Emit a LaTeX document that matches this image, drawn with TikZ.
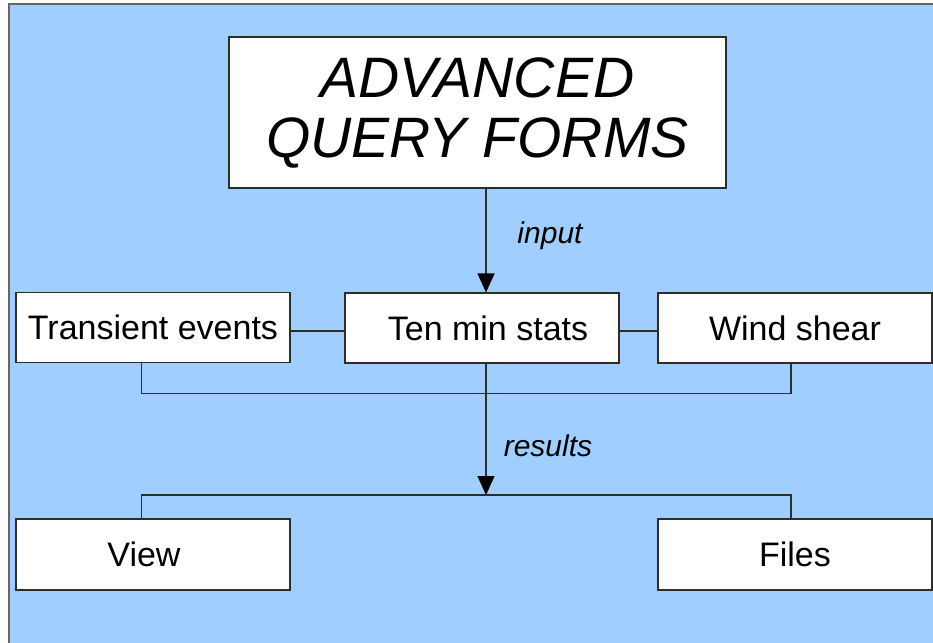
\documentclass[tikz,border=0pt]{standalone}
\usepackage{fontspec}
\setmainfont{Liberation Sans}
\usetikzlibrary{arrows.meta}
\definecolor{bgblue}{RGB}{160,207,255}
\definecolor{linegray}{RGB}{45,45,45}
\begin{document}
\begin{tikzpicture}[x=1pt,y=-1pt,
  box/.style={draw=linegray,line width=1.2pt,fill=white,minimum width=274pt,minimum height=70pt,inner sep=0pt,
    font=\fontsize{34}{40}\selectfont},
  conn/.style={draw=linegray,line width=1.2pt},
  arr/.style={conn,-{Triangle[length=19pt,width=17pt,fill=black,color=black]}},
  lbl/.style={font=\fontsize{30}{36}\selectfont\itshape,inner sep=0pt}]
\useasboundingbox (0,0) rectangle (933,642);
\fill[white] (0,0) rectangle (933,642);
\filldraw[fill=bgblue,draw=gray!80!black,line width=1.5pt] (9,4) rectangle (960,680);
\node[box,minimum width=497pt,minimum height=151pt,align=center,
  font=\fontsize{57}{60}\selectfont\itshape] (top) at (477.5,112.5) {ADVANCED\\QUERY FORMS};
\node[box] (ten) at (482,328) {\hspace*{12pt}Ten min stats};
\node[box] (trans) at (153,327.5) {Transient events};
\node[box] (wind) at (795,328) {Wind shear};
\node[box,minimum height=71pt] (view) at (153,554.5) {\hspace*{-18pt}View};
\node[box,minimum height=71pt] (files) at (795,554.5) {Files};
\coordinate (vx) at (486,0);
\coordinate (busL) at (141.5,393.5);
\coordinate (busR) at (791,393.5);
\coordinate (junc) at (486,495);
\draw[arr] (top.south -| vx) -- (ten.north -| vx);
\draw[conn] (trans.east |- 0,331) -- (ten.west |- 0,331);
\draw[conn] (ten.east |- 0,331) -- (wind.west |- 0,331);
\draw[conn] (trans.south -| busL) -- (busL) -- (busR) -- (wind.south -| busR);
\draw[arr] (ten.south -| vx) -- (junc);
\draw[conn] (view.north -| busL) |- (junc) -| (files.north -| busR);
\node[lbl] (input) at (550,236) {input};
\node[lbl] (results) at (548,446) {results};
\end{tikzpicture}
\end{document}
